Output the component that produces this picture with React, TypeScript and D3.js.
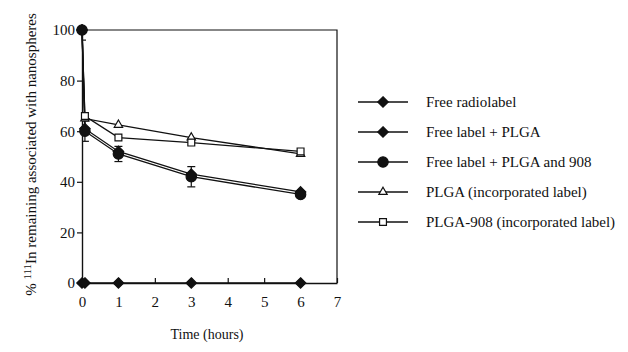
import React, { useEffect, useRef } from 'react';
import * as d3 from 'd3';

// sampling times (hours)
const times = [0, 0.08, 1, 3, 6];

const freeRadiolabel = [0, 0, 0, 0, 0];
const freeLabelPLGA = [100, 61, 52, 43, 36];
const freeLabelPLGA908 = [100, 60, 51, 42, 35];
const plgaIncorporated = [100, 65, 62.5, 57.5, 51];
const plga908Incorporated = [100, 66, 57.5, 55.5, 52];

// error bars on the "Free label + PLGA and 908" series
const errPLGA908 = [4, 4, 3, 4, 1];

const xTicks = [0, 1, 2, 3, 4, 5, 6, 7];
const yTicks = [0, 20, 40, 60, 80, 100];

const seriesNames = [
  'Free radiolabel',
  'Free label + PLGA',
  'Free label + PLGA and 908',
  'PLGA (incorporated label)',
  'PLGA-908 (incorporated label)',
];
const seriesValues = [freeRadiolabel, freeLabelPLGA, freeLabelPLGA908, plgaIncorporated, plga908Incorporated];
const seriesMarkers = ['diamond', 'diamond', 'circle', 'triangle', 'square'];

const isOpen = (m: string) => m === 'triangle' || m === 'square';

const App = () => {
  const svgRef = useRef<SVGSVGElement>(null);

  useEffect(() => {
    const W = 628;
    const H = 352;
    const margin = { top: 30, left: 82 };
    const plotW = 255;
    const plotH = 253;
    const font = '"Liberation Serif", "DejaVu Serif", serif';

    const svg = d3.select(svgRef.current).attr('width', W).attr('height', H);
    svg.selectAll('*').remove();
    svg.append('rect').attr('width', W).attr('height', H).attr('fill', '#fff');

    svg
      .append('defs')
      .append('clipPath')
      .attr('id', 'plot-clip')
      .append('rect')
      .attr('width', plotW)
      .attr('height', plotH);

    const g = svg.append('g').attr('transform', `translate(${margin.left}, ${margin.top})`);

    const x = d3.scaleLinear().domain([0, 7]).range([0, plotW]);
    const y = d3.scaleLinear().domain([0, 100]).range([plotH, 0]);

    // frame (top and right)
    g.append('path')
      .attr('d', `M0,0H${plotW}V${plotH}`)
      .attr('fill', 'none')
      .attr('stroke', '#111')
      .attr('stroke-width', 1.2);

    // axes
    const xAxis = g
      .append('g')
      .attr('transform', `translate(0, ${plotH})`)
      .call(d3.axisBottom(x).tickValues(xTicks).tickFormat(d3.format('d')).tickSizeInner(-5).tickSizeOuter(0).tickPadding(13));
    xAxis.select('.domain').attr('stroke', '#111').attr('stroke-width', 1.4);
    xAxis.selectAll('line').attr('stroke', '#111').attr('stroke-width', 1.2);
    xAxis.selectAll('text').style('font-family', font).style('font-size', '15px').attr('fill', '#111');

    const yAxis = g
      .append('g')
      .call(d3.axisLeft(y).tickValues(yTicks).tickSizeInner(5).tickSizeOuter(0).tickPadding(2));
    yAxis.select('.domain').attr('stroke', '#111').attr('stroke-width', 1.4);
    yAxis.selectAll('line').attr('stroke', '#111').attr('stroke-width', 1.2);
    yAxis.selectAll('text').style('font-family', font).style('font-size', '15px').attr('fill', '#111');

    // axis titles
    svg
      .append('text')
      .attr('x', 207)
      .attr('y', 339)
      .attr('text-anchor', 'middle')
      .style('font-family', font)
      .style('font-size', '14px')
      .attr('fill', '#111')
      .text('Time (hours)');

    const yl = svg
      .append('text')
      .attr('transform', `translate(36, ${margin.top + plotH / 2 - 2}) rotate(-90)`)
      .attr('text-anchor', 'middle')
      .style('font-family', font)
      .style('font-size', '15px')
      .attr('fill', '#111');
    yl.append('tspan').text('% ');
    yl.append('tspan').attr('dy', -5).style('font-size', '11px').text('111');
    yl.append('tspan').attr('dy', 5).text('In remaining associated with nanospheres');

    const symbolFor = (m: string) => {
      if (m === 'diamond') return d3.symbol().type(d3.symbolDiamond2).size(70);
      if (m === 'circle') return d3.symbol().type(d3.symbolCircle).size(85);
      if (m === 'triangle') return d3.symbol().type(d3.symbolTriangle2).size(50);
      return d3.symbol().type(d3.symbolSquare2).size(60);
    };

    const line = d3
      .line<number>()
      .x((_, i) => x(times[i]))
      .y(d => y(d));

    // error bars (clipped to the plot box)
    const eb = g.append('g').attr('clip-path', 'url(#plot-clip)').attr('stroke', '#111').attr('stroke-width', 1.2);
    times.forEach((t, i) => {
      const v = freeLabelPLGA908[i];
      const e = errPLGA908[i];
      const cx = x(t);
      eb.append('line').attr('x1', cx).attr('x2', cx).attr('y1', y(v - e)).attr('y2', y(v + e));
      eb.append('line').attr('x1', cx - 4).attr('x2', cx + 4).attr('y1', y(v - e)).attr('y2', y(v - e));
      eb.append('line').attr('x1', cx - 4).attr('x2', cx + 4).attr('y1', y(v + e)).attr('y2', y(v + e));
    });

    seriesValues.forEach(vals => {
      g.append('path')
        .datum(vals)
        .attr('d', line)
        .attr('fill', 'none')
        .attr('stroke', '#111')
        .attr('stroke-width', 1.3);
    });

    // open markers first, filled ones on top
    const order = [3, 4, 0, 1, 2];
    order.forEach(s => {
      const m = seriesMarkers[s];
      g.selectAll(null)
        .data(seriesValues[s])
        .enter()
        .append('path')
        .attr('transform', (d, i) => `translate(${x(times[i])}, ${y(d)})`)
        .attr('d', symbolFor(m)())
        .attr('fill', isOpen(m) ? '#fff' : '#111')
        .attr('stroke', '#111')
        .attr('stroke-width', 1.2);
    });

    // legend
    const legend = svg
      .selectAll('.legend')
      .data(seriesNames)
      .enter()
      .append('g')
      .attr('transform', (_, i) => `translate(358, ${102 + i * 30})`);

    legend
      .append('line')
      .attr('x1', 0)
      .attr('x2', 50)
      .attr('stroke', '#111')
      .attr('stroke-width', 1.3);

    legend
      .append('path')
      .attr('transform', 'translate(25, 0)')
      .attr('d', (_, i) => symbolFor(seriesMarkers[i])())
      .attr('fill', (_, i) => (isOpen(seriesMarkers[i]) ? '#fff' : '#111'))
      .attr('stroke', '#111')
      .attr('stroke-width', 1.2);

    legend
      .append('text')
      .attr('x', 68)
      .attr('y', 5)
      .style('font-family', font)
      .style('font-size', '15px')
      .attr('fill', '#111')
      .text(d => d);
  }, []);

  return <svg ref={svgRef} style={{ display: 'block', position: 'absolute', left: 0, top: 0 }}></svg>;
};

export default App;
